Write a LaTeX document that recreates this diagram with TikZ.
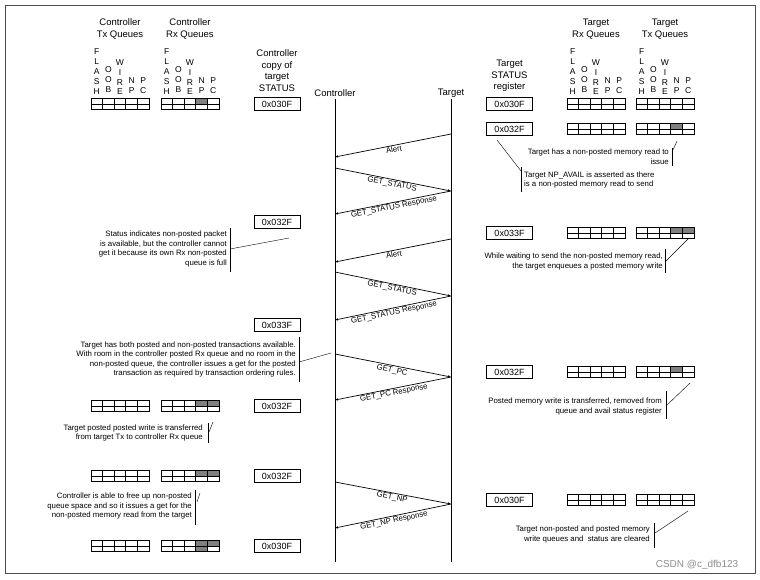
\documentclass[tikz,border=0pt]{standalone}
\usepackage{fontspec}
\setmainfont{Liberation Sans}
\usetikzlibrary{arrows.meta}
\tikzset{
  hdr/.style={font=\fontsize{9.5}{11.7}\selectfont, align=center, inner sep=0pt},
  ann/.style={font=\fontsize{7.8}{9.5}\selectfont, inner sep=0pt},
  regbox/.style={draw, line width=0.8pt, minimum width=46pt, minimum height=13pt, inner sep=0pt, font=\fontsize{9}{10}\selectfont},
  msg/.style={-{Latex[length=3pt,width=2.4pt]}, line width=0.7pt},
  lbl/.style={font=\fontsize{7.8}{9}\selectfont, sloped, below, inner sep=1pt, midway},
  qletter/.style={font=\fontsize{8.5}{9.8}\selectfont, inner sep=0pt},
  bar/.style={line width=0.8pt},
  gridline/.style={line width=0.7pt}
}
\newcommand\qletters[1]{%
  \foreach \c [count=\i from 0] in {F,L,A,S,H} \node[qletter] at ({#1+5.8},{52+\i*9.8}) {\c};
  \foreach \c [count=\i from 0] in {O,O,B} \node[qletter] at ({#1+17.4},{69.5+\i*9.8}) {\c};
  \foreach \c [count=\i from 0] in {W,I,R,E} \node[qletter] at ({#1+29},{62.5+\i*9.8}) {\c};
  \foreach \c [count=\i from 0] in {N,P} \node[qletter] at ({#1+40.6},{81+\i*9.8}) {\c};
  \foreach \c [count=\i from 0] in {P,C} \node[qletter] at ({#1+52.2},{81+\i*9.8}) {\c};
}
\newcommand\qfill[3]{%
  \foreach \cc/\rr in {#3} \fill[black!50] ({#1+(\cc-1)*11.6},{#2+(\rr-1)*5.5}) rectangle ++(11.6,5.5);
}
\newcommand\qgrid[2]{%
  \draw[gridline] (#1,#2) rectangle ++(58,11);
  \draw[gridline] (#1,{#2+5.5}) -- ++(58,0);
  \foreach \k in {1,...,4} \draw[gridline] ({#1+\k*11.6},#2) -- ++(0,11);
}
\begin{document}
\begin{tikzpicture}[x=1pt,y=-1pt]
\useasboundingbox (0,0) rectangle (760,579);
\draw[black!70, line width=0.6pt] (5,5) rectangle (755,573);

% headers
\node[hdr] (hctx) at (120,29) {Controller\\Tx Queues};
\node[hdr] (hcrx) at (190,29) {Controller\\Rx Queues};
\node[hdr] (htrx) at (596,29) {Target\\Rx Queues};
\node[hdr] (httx) at (665,29) {Target\\Tx Queues};
\node[hdr] (hcst) at (277,70.5) {Controller\\copy of\\target\\STATUS};
\node[hdr] (htst) at (509.5,76) {Target\\STATUS\\register};
\qletters{91}
\qletters{161}
\qletters{567}
\qletters{636}

% lifelines
\node[hdr] (cl) at (335,93) {Controller};
\node[hdr] (tl) at (451,93) {Target};
\coordinate (clend) at (335,562);
\coordinate (tlend) at (451,562);
\draw[line width=0.8pt] (335,99) -- (clend);
\draw[line width=0.8pt] (451,99) -- (tlend);

% controller registers
\node[regbox] (c1) at (277,104) {0x030F};
\node[regbox] (c2) at (277,222) {0x032F};
\node[regbox] (c3) at (277,325) {0x033F};
\node[regbox] (c4) at (277,406) {0x032F};
\node[regbox] (c5) at (277,476) {0x032F};
\node[regbox] (c6) at (277,546) {0x030F};
% target registers
\node[regbox] (t1) at (509.5,104) {0x030F};
\node[regbox] (t2) at (509.5,129) {0x032F};
\node[regbox] (t3) at (509.5,233) {0x033F};
\node[regbox] (t4) at (509.5,372) {0x032F};
\node[regbox] (t5) at (509.5,500) {0x030F};

% controller queues
\qfill{161}{98.5}{4/1}
\qgrid{91}{98.5}\qgrid{161}{98.5}
\qfill{161}{400.5}{4/1,5/1}
\qgrid{91}{400.5}\qgrid{161}{400.5}
\qfill{161}{470.5}{4/1,5/1}
\qgrid{91}{470.5}\qgrid{161}{470.5}
\qfill{161}{540.5}{4/1,5/1,4/2}
\qgrid{91}{540.5}\qgrid{161}{540.5}
% target queues
\qgrid{567}{98.5}\qgrid{636}{98.5}
\qfill{636}{123.5}{4/1}
\qgrid{567}{123.5}\qgrid{636}{123.5}
\qfill{636}{227.5}{4/1,5/1}
\qgrid{567}{227.5}\qgrid{636}{227.5}
\qfill{636}{366.5}{4/1}
\qgrid{567}{366.5}\qgrid{636}{366.5}
\qgrid{567}{494.5}\qgrid{636}{494.5}

% messages
\draw[msg] (451,134) -- (335,157) node[lbl] {Alert};
\draw[msg] (335,168) -- (451,191) node[lbl] {GET\_STATUS};
\draw[msg] (451,191) -- (335,214) node[lbl] {GET\_STATUS Response};
\draw[msg] (451,239) -- (335,262) node[lbl] {Alert};
\draw[msg] (335,272) -- (451,296) node[lbl] {GET\_STATUS};
\draw[msg] (451,296) -- (335,320) node[lbl] {GET\_STATUS Response};
\draw[msg] (335,354) -- (451,377) node[lbl] {GET\_PC};
\draw[msg] (451,377) -- (335,400) node[lbl] {GET\_PC Response};
\draw[msg] (335,482) -- (451,504) node[lbl] {GET\_NP};
\draw[msg] (451,504) -- (335,528) node[lbl] {GET\_NP Response};

% annotations
\node[ann, align=right, anchor=east] (a1) at (669,156.5) {Target has a non-posted memory read to\\issue};
\draw[bar] (672,148) -- (672,166);
\draw (672,152) -- (677,141);

\node[ann, align=left, anchor=west] (a2) at (524,180) {Target NP\_AVAIL is asserted as there\\is a non-posted memory read to send};
\draw[bar] (521,167) -- (521,192);
\draw (497,140) -- (521,171);

\node[ann, align=right, anchor=east] (a3) at (227,249) {Status indicates non-posted packet\\is available, but the controller cannot\\get it because its own Rx non-posted\\queue is full};
\draw[bar] (230,228) -- (230,272);
\draw (230,249) -- (289,238);

\node[ann, align=right, anchor=east] (a4) at (663,261.5) {While waiting to send the non-posted memory read,\\the target enqueues a posted memory write};
\draw[bar] (665,249) -- (665,273);
\draw (665,262) -- (689,238);

\node[ann, align=right, anchor=east] (a5) at (296,359.5) {Target has both posted and non-posted transactions available.\\With room in the controller posted Rx queue and no room in the\\non-posted queue, the controller issues a get for the posted\\transaction as required by transaction ordering rules.};
\draw[bar] (299,337) -- (299,382);
\draw (299,362) -- (331,353);

\node[ann, align=right, anchor=east] (a6) at (203,433) {Target posted posted write is transferred\\from target Tx to controller Rx queue};
\draw[bar] (208,423) -- (208,443);
\draw (209,432) -- (213,422);

\node[ann, align=right, anchor=east] (a7) at (662,406.5) {Posted memory write is transferred, removed from\\queue and avail status register};
\draw[bar] (666,391) -- (666,419);
\draw (667,405) -- (690,383);

\node[ann, align=right, anchor=east] (a8) at (192,506) {Controller is able to free up non-posted\\queue space and so it issues a get for the\\non-posted memory read from the target};
\draw[bar] (195,490) -- (195,525);
\draw (197,502) -- (200,493);

\node[ann, align=right, anchor=east] (a9) at (650,534.5) {Target non-posted and posted memory\\write queues and\ \ status are cleared};
\draw[bar] (654,523) -- (654,548);
\draw (655,533) -- (688,511);

\node[font=\fontsize{10}{12}\selectfont, text=black!45, inner sep=0pt] (wm) at (697,565) {CSDN @c\_dfb123};
\end{tikzpicture}
\end{document}
